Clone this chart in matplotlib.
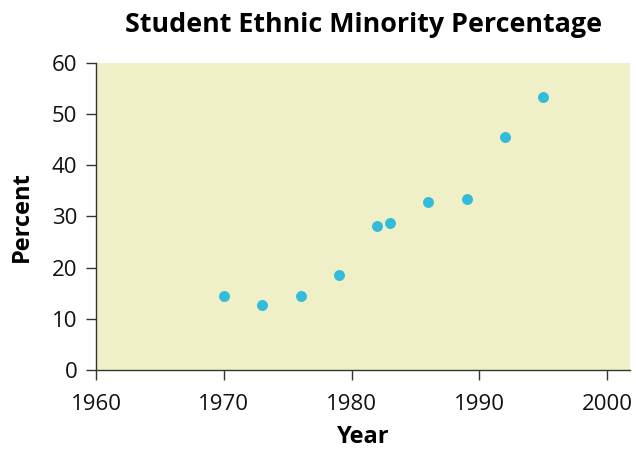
import matplotlib
matplotlib.use("Agg")
import matplotlib.pyplot as plt

plt.rcParams['font.family'] = ['Open Sans', 'DejaVu Sans']

years = [1970, 1973, 1976, 1979, 1982, 1983, 1986, 1989, 1992, 1995]
percent = [14.5, 12.7, 14.5, 18.5, 28.1, 28.8, 32.9, 33.5, 45.6, 53.3]
xticks = [1960, 1970, 1980, 1990, 2000]
yticks = [0, 10, 20, 30, 40, 50, 60]

fig = plt.figure(figsize=(6.36, 4.49), dpi=100)
ax = fig.add_axes([0.151, 0.176, 0.840, 0.684])
ax.set_facecolor('#EFEFC8')
ax.scatter(years, percent, s=62, color='#33BBDB', zorder=3, linewidths=0)

ax.set_xlim(1960, 2001.8)
ax.set_ylim(0, 60)
ax.set_xticks(xticks)
ax.set_yticks(yticks)
for s in ['top', 'right']:
    ax.spines[s].set_visible(False)
for s in ['left', 'bottom']:
    ax.spines[s].set_color('#333333')
    ax.spines[s].set_linewidth(1.0)
ax.tick_params(direction='out', length=7.5, width=1, color='#333333', labelcolor='#111111')
ax.tick_params(axis='x', pad=10)
ax.tick_params(axis='y', pad=6)
for lab in ax.get_xticklabels() + ax.get_yticklabels():
    lab.set_fontsize(16)
    lab.set_fontweight('normal')

ax.set_xlabel('Year', fontsize=17, fontweight='bold', labelpad=7)
ax.set_ylabel('Percent', fontsize=17, fontweight='bold', labelpad=13)
ax.set_title('Student Ethnic Minority Percentage', fontsize=19.4, fontweight='bold', pad=22)

fig.savefig('out.png', dpi=100)
